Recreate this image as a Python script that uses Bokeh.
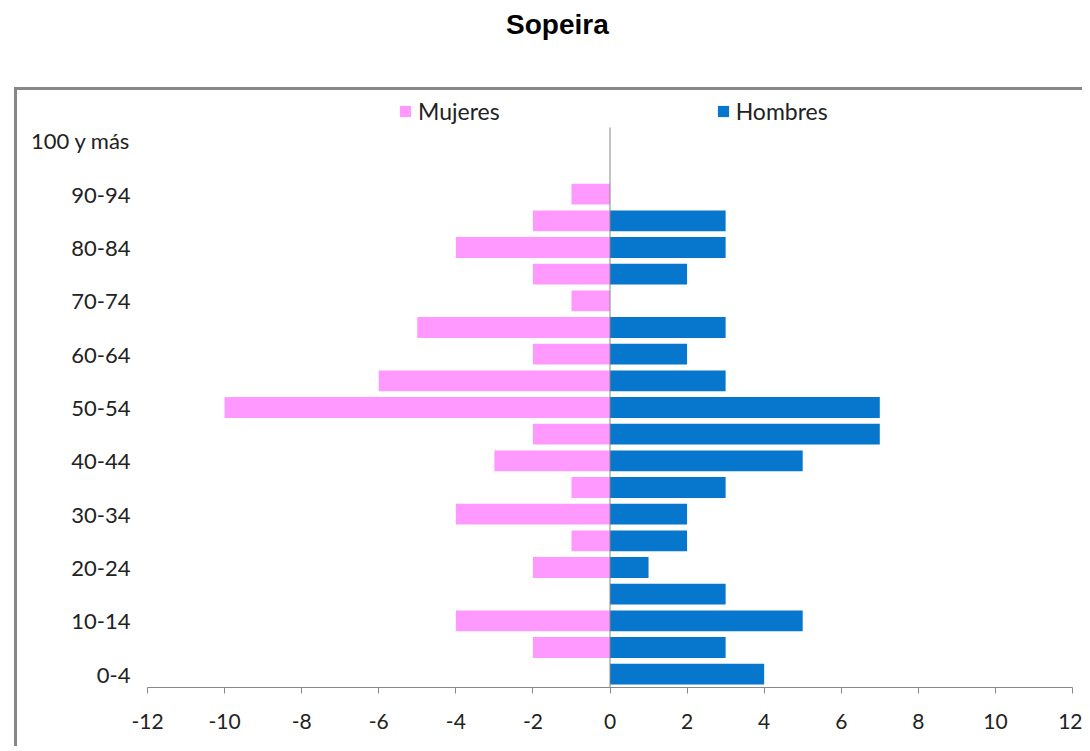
from bokeh.plotting import figure
from bokeh.models import (Range1d, Legend, LegendItem, FixedTicker,
                          ColumnDataSource, Div)
from bokeh.layouts import column
from bokeh.embed import file_html
from bokeh.resources import INLINE

title_text = "Sopeira"
categories = ["0-4", "5-9", "10-14", "15-19", "20-24", "25-29", "30-34",
              "35-39", "40-44", "45-49", "50-54", "55-59", "60-64", "65-69",
              "70-74", "75-79", "80-84", "85-89", "90-94", "95-99", "100 y más"]
mujeres = [0, -2, -4, 0, -2, -1, -4, -1, -3, -2, -10, -6, -2, -5, -1, -2, -4, -2, -1, 0, 0]
hombres = [4, 3, 5, 3, 1, 2, 2, 3, 5, 7, 7, 3, 2, 3, 0, 2, 3, 3, 0, 0, 0]
x_ticks = [-12, -10, -8, -6, -4, -2, 0, 2, 4, 6, 8, 10, 12]
series_names = ["Mujeres", "Hombres"]

PINK = "#FF99FF"
BLUE = "#0777CE"
GRAY = "#878787"
FONT = "Lato"

ypos = list(range(len(categories)))
src = ColumnDataSource(dict(y=ypos, m=mujeres, h=hombres,
                            zero=[0] * len(categories)))

title = Div(text=title_text, width=200, height=79, margin=(8, 0, 0, 506),
            styles={"font-family": "'Liberation Sans', Arial, sans-serif",
                    "font-weight": "bold", "font-size": "28px",
                    "line-height": "34px", "color": "#000000"})

# extra headroom above the top category holds the legend (inside the framed box)
y_lo = ypos[0] - 0.5
y_hi = ypos[-1] + 0.5
p = figure(width=1068, height=659, output_backend="svg", toolbar_location=None,
           x_range=Range1d(-12, 12), y_range=Range1d(y_lo, y_hi + 1.3125),
           min_border_left=130, min_border_right=13, min_border_top=2,
           min_border_bottom=62)
p.margin = (0, 0, 0, 14)
p.styles = {"border-top": "3px solid #878787", "border-left": "3px solid #878787"}

rm = p.hbar(y="y", left="m", right="zero", height=0.78, source=src,
            fill_color=PINK, line_color=None)
rh = p.hbar(y="y", left="zero", right="h", height=0.78, source=src,
            fill_color=BLUE, line_color=None)

# vertical category axis line at x = 0
p.segment(x0=[0], y0=[y_lo], x1=[0], y1=[y_hi], line_color=GRAY, line_width=1)

# axes
p.xaxis.ticker = FixedTicker(ticks=x_ticks)
p.xaxis.major_label_overrides = {t: str(t) for t in x_ticks}
p.xaxis.axis_line_color = GRAY
p.xaxis.major_tick_line_color = GRAY
p.xaxis.major_tick_out = 6
p.xaxis.major_tick_in = 0
p.xaxis.minor_tick_line_color = None
p.xaxis.major_label_text_font = FONT
p.xaxis.major_label_text_font_size = "21px"
p.xaxis.major_label_text_color = "#222222"
p.xaxis.major_label_standoff = 20

p.yaxis.ticker = FixedTicker(ticks=ypos[::2])
p.yaxis.major_label_overrides = {i: categories[i] for i in ypos}
p.yaxis.axis_line_color = None
p.yaxis.major_tick_line_color = None
p.yaxis.minor_tick_line_color = None
p.yaxis.major_tick_out = 0
p.yaxis.major_tick_in = 0
p.yaxis.major_label_text_font = FONT
p.yaxis.major_label_text_font_size = "22px"
p.yaxis.major_label_text_color = "#222222"
p.yaxis.major_label_standoff = 17

p.xgrid.grid_line_color = None
p.ygrid.grid_line_color = None
p.outline_line_color = None

legend = Legend(items=[LegendItem(label=series_names[0], renderers=[rm]),
                       LegendItem(label=series_names[1], renderers=[rh])],
                location=(251, 562), orientation="horizontal", spacing=216,
                glyph_width=14, glyph_height=14, label_standoff=6,
                padding=0, margin=0, border_line_color=None,
                background_fill_alpha=0, label_text_font=FONT,
                label_text_font_size="23px", label_text_color="#222222")
p.add_layout(legend)

layout = column(title, p, spacing=0)
open("out.html", "w").write(file_html(layout, INLINE))
